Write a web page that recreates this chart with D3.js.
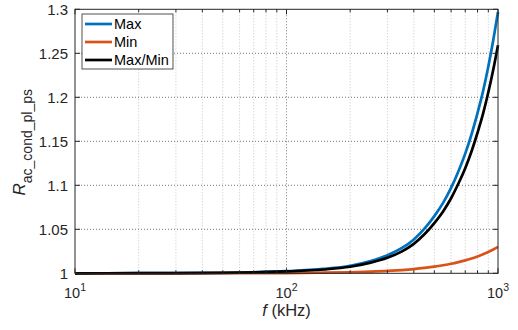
<!DOCTYPE html>
<html>
<head>
<meta charset="utf-8">
<script src="https://cdn.jsdelivr.net/npm/d3@7/dist/d3.min.js"></script>
<style>
  html, body { margin: 0; padding: 0; background: #fff; }
  svg { display: block; font-family: "Liberation Sans", Arial, Helvetica, sans-serif; }
</style>
</head>
<body>
<svg id="chart" width="518" height="330"></svg>
<script>
// Frequency samples (kHz)
const freq = [10, 20, 50, 100, 150, 200, 250, 300, 350, 400, 450, 500, 550, 600, 650, 700, 750, 800, 850, 900, 950, 1000];
// AC conduction resistance factor, max case
const maxVals = [1.0000, 1.0001, 1.0006, 1.0024, 1.0050, 1.0086, 1.0140, 1.0205, 1.0285, 1.0385, 1.0510, 1.0650, 1.0800, 1.0970, 1.1160, 1.1360, 1.1580, 1.1820, 1.2070, 1.2350, 1.2650, 1.2970];
// AC conduction resistance factor, min case
const minVals = [1.0000, 1.0000, 1.0001, 1.0003, 1.0007, 1.0012, 1.0019, 1.0027, 1.0037, 1.0048, 1.0061, 1.0075, 1.0091, 1.0108, 1.0127, 1.0147, 1.0169, 1.0192, 1.0217, 1.0243, 1.0271, 1.0300];
// Ratio max/min
const ratioVals = [1.0000, 1.0001, 1.0005, 1.0021, 1.0043, 1.0074, 1.0121, 1.0177, 1.0247, 1.0335, 1.0446, 1.0571, 1.0703, 1.0853, 1.1020, 1.1195, 1.1387, 1.1597, 1.1814, 1.2057, 1.2316, 1.2592];

const seriesNames = ["Max", "Min", "Max/Min"];
const seriesColors = ["#0072BD", "#D95319", "#000000"];
const yTicks = [1, 1.05, 1.1, 1.15, 1.2, 1.25, 1.3];
const xDecades = [10, 100, 1000];

(function () {
  const svg = d3.select("#chart");
  const mLeft = 75, mRight = 498, mTop = 9.3, mBottom = 273.3;
  const axisColor = "#262626";

  const x = d3.scaleLog().domain([10, 1000]).range([mLeft, mRight]);
  const y = d3.scaleLinear().domain([1, 1.3]).range([mBottom, mTop]);

  // minor positions on the log axis
  const minorX = [];
  for (let d = 10; d < 1000; d *= 10) for (let k = 2; k <= 9; k++) minorX.push(d * k);

  // grid
  const grid = svg.append("g");
  grid.selectAll(".gxm").data(minorX).join("line")
    .attr("x1", d => x(d)).attr("x2", d => x(d)).attr("y1", mTop).attr("y2", mBottom)
    .attr("stroke", "#b8b8b8").attr("stroke-width", 0.8).attr("stroke-dasharray", "1,2");
  grid.selectAll(".gxM").data(xDecades.slice(1, -1)).join("line")
    .attr("x1", d => x(d)).attr("x2", d => x(d)).attr("y1", mTop).attr("y2", mBottom)
    .attr("stroke", "#555").attr("stroke-width", 0.8).attr("stroke-dasharray", "1,2");
  grid.selectAll(".gy").data(yTicks.slice(1, -1)).join("line")
    .attr("x1", mLeft).attr("x2", mRight).attr("y1", d => y(d)).attr("y2", d => y(d))
    .attr("stroke", "#555").attr("stroke-width", 0.8).attr("stroke-dasharray", "1,2");

  // curves
  const series = [maxVals, minVals, ratioVals];
  const line = d3.line().x((d, i) => x(freq[i])).y(d => y(d)).curve(d3.curveMonotoneX);
  const plot = svg.append("g");
  series.forEach((vals, si) => {
    plot.append("path").datum(vals)
      .attr("d", line)
      .attr("fill", "none")
      .attr("stroke", seriesColors[si])
      .attr("stroke-width", 2.7)
      .attr("stroke-linejoin", "round");
  });

  // axes box and inward ticks
  const ax = svg.append("g").attr("stroke", axisColor).attr("fill", "none");
  ax.append("rect").attr("x", mLeft).attr("y", mTop).attr("width", mRight - mLeft).attr("height", mBottom - mTop)
    .attr("stroke-width", 1);
  const tickLen = 5, minorLen = 3;
  xDecades.forEach(d => {
    ax.append("line").attr("x1", x(d)).attr("x2", x(d)).attr("y1", mBottom).attr("y2", mBottom - tickLen);
    ax.append("line").attr("x1", x(d)).attr("x2", x(d)).attr("y1", mTop).attr("y2", mTop + tickLen);
  });
  minorX.forEach(d => {
    ax.append("line").attr("x1", x(d)).attr("x2", x(d)).attr("y1", mBottom).attr("y2", mBottom - minorLen);
    ax.append("line").attr("x1", x(d)).attr("x2", x(d)).attr("y1", mTop).attr("y2", mTop + minorLen);
  });
  yTicks.forEach(d => {
    ax.append("line").attr("x1", mLeft).attr("x2", mLeft + tickLen).attr("y1", y(d)).attr("y2", y(d));
    ax.append("line").attr("x1", mRight).attr("x2", mRight - tickLen).attr("y1", y(d)).attr("y2", y(d));
  });

  // y tick labels
  svg.append("g").selectAll("text").data(yTicks).join("text")
    .attr("x", mLeft - 7).attr("y", d => y(d)).attr("dy", "0.35em")
    .attr("text-anchor", "end").attr("font-size", 15).attr("fill", axisColor)
    .text(d => d3.format("~g")(d));

  // x tick labels 10^n
  const xl = svg.append("g").attr("fill", axisColor);
  xDecades.forEach(d => {
    const t = xl.append("text").attr("x", x(d)).attr("y", 298).attr("text-anchor", "middle").attr("font-size", 14.5);
    t.append("tspan").text("10");
    t.append("tspan").attr("font-size", 10.5).attr("dy", -7).text(Math.round(Math.log10(d)));
  });

  // axis titles
  const xt = svg.append("text").attr("x", (mLeft + mRight) / 2).attr("y", 316)
    .attr("text-anchor", "middle").attr("font-size", 16.5).attr("fill", axisColor);
  xt.append("tspan").attr("font-style", "italic").text("f");
  xt.append("tspan").text(" (kHz)");

  const yt = svg.append("text").attr("transform", "translate(25,195.5) rotate(-90)")
    .attr("text-anchor", "start").attr("font-size", 17).attr("fill", axisColor);
  yt.append("tspan").attr("font-style", "italic").text("R");
  yt.append("tspan").attr("font-size", 14).attr("dy", 7).text("ac_cond_pl_ps");

  // legend
  const lg = svg.append("g");
  lg.append("rect").attr("x", 82).attr("y", 14).attr("width", 91).attr("height", 55)
    .attr("fill", "#fff").attr("stroke", axisColor).attr("stroke-width", 0.8);
  seriesNames.forEach((n, i) => {
    const yy = 24 + i * 18;
    lg.append("line").attr("x1", 85).attr("x2", 112).attr("y1", yy).attr("y2", yy)
      .attr("stroke", seriesColors[i]).attr("stroke-width", 2.7);
    lg.append("text").attr("x", 114).attr("y", yy).attr("dy", "0.35em")
      .attr("font-size", 14.5).attr("fill", "#000").text(n);
  });
})();
</script>
</body>
</html>
